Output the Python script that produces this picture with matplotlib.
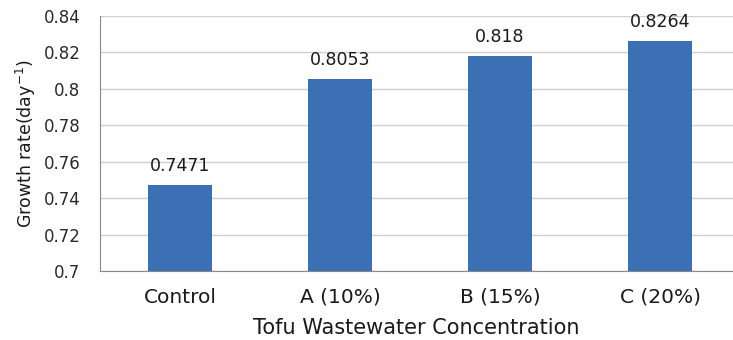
import matplotlib
matplotlib.use("Agg")
from matplotlib import pyplot as plt

categories = ["Control", "A (10%)", "B (15%)", "C (20%)"]
growth_rate = [0.7471, 0.8053, 0.818, 0.8264]
value_labels = ["0.7471", "0.8053", "0.818", "0.8264"]
y_ticks = [0.7, 0.72, 0.74, 0.76, 0.78, 0.8, 0.82, 0.84]
y_tick_labels = ["0.7", "0.72", "0.74", "0.76", "0.78", "0.8", "0.82", "0.84"]

plt.rcParams["font.family"] = ["DejaVu Sans"]

fig = plt.figure(figsize=(7.33, 3.40), dpi=100)
ax = fig.add_axes([100 / 733, 1 - 271 / 340, 1 - 100 / 733, (271 - 16) / 340])

x = range(len(categories))
bars = ax.bar(x, growth_rate, width=0.4, color="#3c70b5", zorder=3)
for b, lab in zip(bars, value_labels):
    ax.annotate(lab, (b.get_x() + b.get_width() / 2, b.get_height()),
                xytext=(0, 7), textcoords="offset points",
                ha="center", va="bottom", fontsize=12.5, color="#1a1a1a")

ax.set_ylim(0.7, 0.84)
ax.set_xlim(-0.5, 3.456)
ax.set_yticks(y_ticks)
ax.set_yticklabels(y_tick_labels, fontsize=12, color="#2a2a2a")
ax.set_xticks(list(x))
ax.set_xticklabels(categories, fontsize=14.5, color="#1a1a1a")
ax.tick_params(axis="y", length=0, pad=14)
ax.tick_params(axis="x", length=0, pad=12)

ax.grid(axis="y", color="#d0d0d0", linewidth=1, zorder=0)
for s in ["top", "right"]:
    ax.spines[s].set_visible(False)
ax.spines["left"].set_color("#888888")
ax.spines["bottom"].set_color("#888888")

ax.set_ylabel("Growth rate(day$^{-1}$)", fontsize=12.5, color="#1a1a1a", labelpad=4)
ax.set_xlabel("Tofu Wastewater Concentration", fontsize=15, color="#1a1a1a", labelpad=8)

fig.savefig("out.png", dpi=100)
